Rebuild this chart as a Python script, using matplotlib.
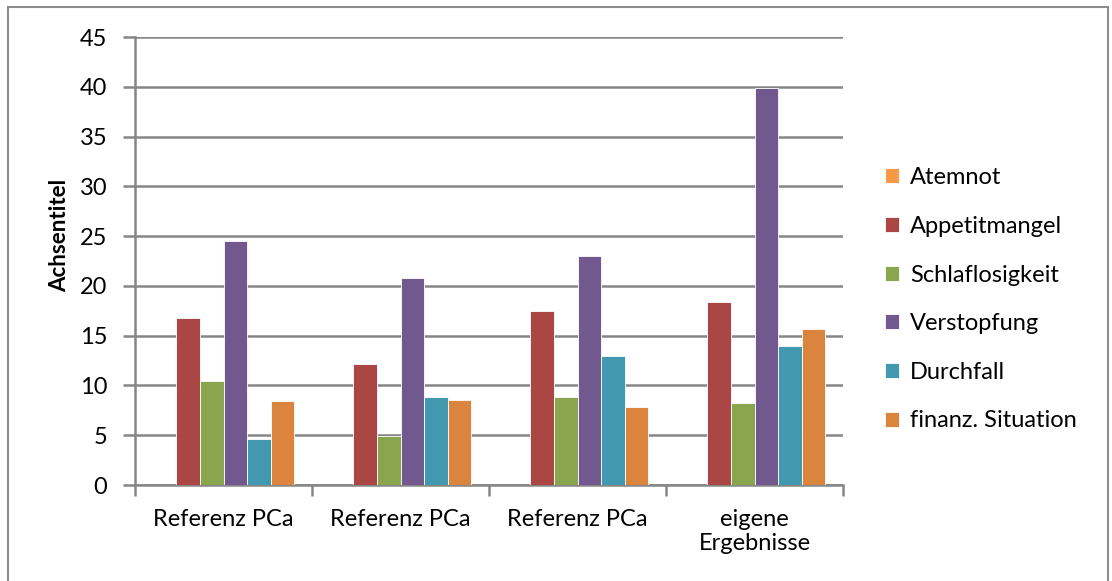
import numpy as np
import matplotlib
matplotlib.use("Agg")
import matplotlib.pyplot as plt
from matplotlib.patches import Rectangle

# Daten
gruppen = ["Referenz PCa", "Referenz PCa", "Referenz PCa", "eigene\nErgebnisse"]
serien = ["Atemnot", "Appetitmangel", "Schlaflosigkeit", "Verstopfung",
          "Durchfall", "finanz. Situation"]
atemnot = [0, 0, 0, 0]
appetitmangel = [16.8, 12.2, 17.5, 18.4]
schlaflosigkeit = [10.4, 4.9, 8.8, 8.2]
verstopfung = [24.5, 20.8, 23.0, 39.9]
durchfall = [4.6, 8.8, 13.0, 14.0]
finanz = [8.4, 8.5, 7.8, 15.7]
werte = [atemnot, appetitmangel, schlaflosigkeit, verstopfung, durchfall, finanz]
farben = ["#F79A48", "#AA4643", "#89A54E", "#71588F", "#4198AF", "#DB843D"]

plt.rcParams['font.family'] = ['Lato', 'DejaVu Sans']
grau = "#868686"
fs = 17

fig = plt.figure(figsize=(11.12, 5.81), dpi=100)
ax = fig.add_axes([135/1112, 1 - 485/581, (843 - 135)/1112, (485 - 37)/581])

# Balken: Lückenbreite 150 %
n = len(serien)
breite = 1 / (n + 1.5)
x = np.arange(len(gruppen))
for j, (name, vals, c) in enumerate(zip(serien, werte, farben)):
    pos = x + 0.75 * breite + (j + 0.5) * breite
    ax.bar(pos, vals, width=breite, color=c, label=name,
           edgecolor="#ffffff", linewidth=0.6, zorder=3)

ax.set_xlim(0, len(gruppen))
ax.set_ylim(0, 45)
ax.set_yticks(np.arange(0, 46, 5))
ax.yaxis.grid(True, color=grau, linewidth=1.8, zorder=0)

ax.set_xticks(x + 0.5)
ax.set_xticklabels(gruppen, fontsize=fs, linespacing=1.2)
ax.set_xticks(np.arange(len(gruppen) + 1), minor=True)
ax.tick_params(axis="x", which="major", length=0, pad=17)
ax.tick_params(axis="x", which="minor", length=8, width=1.8, color=grau)
ax.tick_params(axis="y", length=9, width=1.8, color=grau, labelsize=fs, pad=11)

for s in ["top", "right"]:
    ax.spines[s].set_visible(False)
for s in ["left", "bottom"]:
    ax.spines[s].set_color(grau)
    ax.spines[s].set_linewidth(1.8)

fig.text(60/1112, 1 - 235/581, "Achsentitel", rotation=90, fontsize=16,
         fontweight="bold", ha="center", va="center")

ax.legend(loc="upper left", bbox_to_anchor=(864/1112, 1 - 146/581),
          bbox_transform=fig.transFigure, frameon=False, fontsize=fs,
          handlelength=0.6, handleheight=0.6, handletextpad=0.45,
          labelspacing=1.17)

# Rahmen um das Diagramm
fig.patches.append(Rectangle((8/1112, -0.05), 1100/1112, 1 - 7/581 + 0.05,
                             transform=fig.transFigure, fill=False,
                             edgecolor="#8c8c8c", linewidth=1.5))

fig.savefig("out.png", dpi=100)
